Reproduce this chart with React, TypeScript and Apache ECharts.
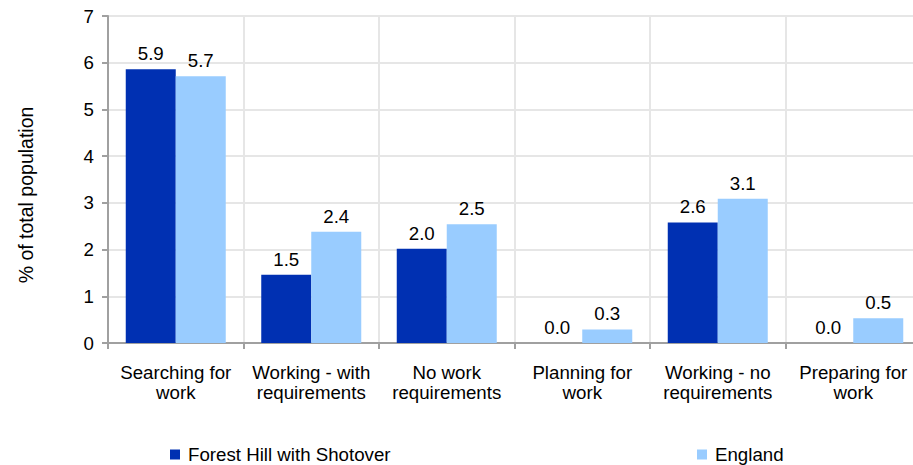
import React, { useEffect, useRef } from "react";
import * as echarts from "echarts";

const categories = [
  "Searching for\nwork",
  "Working - with\nrequirements",
  "No work\nrequirements",
  "Planning for\nwork",
  "Working - no\nrequirements",
  "Preparing for\nwork",
];
const seriesNames = ["Forest Hill with Shotover", "England"];
const forestHill = [5.86, 1.46, 2.02, 0.0, 2.58, 0.0];
const england = [5.71, 2.38, 2.54, 0.29, 3.09, 0.53];
const yTicks = { min: 0, max: 7, interval: 1 };
const yAxisTitle = "% of total population";

const DARK = "#0030b2";
const LIGHT = "#99ccff";
const FONT = "Liberation Sans, Arial, sans-serif";
const FS = 18.7;

export default function App() {
  const ref = useRef<HTMLDivElement>(null);
  useEffect(() => {
    const chart = echarts.init(ref.current!, null, { renderer: "svg" });
    const label = {
      show: true,
      position: "top",
      distance: 6,
      color: "#000",
      fontSize: FS,
      fontFamily: FONT,
      formatter: (p: any) => Number(p.value).toFixed(1),
    };
    const legendText = {
      color: "#000",
      fontSize: FS,
      fontFamily: FONT,
      lineHeight: 18,
      padding: [0, 0, 0, 3],
    };
    chart.setOption({
      animation: false,
      textStyle: { fontFamily: FONT },
      grid: {
        left: 108,
        width: 813,
        top: 16,
        height: 327,
        containLabel: false,
        outerBoundsMode: "none",
      },
      graphic: [
        {
          type: "text",
          x: 26,
          y: 195,
          rotation: Math.PI / 2,
          style: {
            text: yAxisTitle,
            fill: "#000",
            fontSize: 19.5,
            fontFamily: FONT,
            align: "center",
            verticalAlign: "middle",
          },
        },
      ],
      legend: [
        {
          data: [seriesNames[0]],
          left: 170,
          top: 445,
          padding: 0,
          itemWidth: 10,
          itemHeight: 10,
          itemGap: 8,
          icon: "rect",
          textStyle: legendText,
        },
        {
          data: [seriesNames[1]],
          left: 697,
          top: 445,
          padding: 0,
          itemWidth: 10,
          itemHeight: 10,
          icon: "rect",
          textStyle: legendText,
        },
      ],
      xAxis: {
        type: "category",
        data: categories,
        axisLine: { show: true, lineStyle: { color: "#a0a0a0", width: 2 } },
        axisTick: { show: true, length: 6, lineStyle: { color: "#a0a0a0", width: 2 } },
        splitLine: { show: true, lineStyle: { color: "#e6e6e6", width: 2 } },
        axisLabel: {
          color: "#000",
          fontSize: FS,
          fontFamily: FONT,
          lineHeight: 20,
          margin: 19,
          interval: 0,
        },
      },
      yAxis: {
        type: "value",
        min: yTicks.min,
        max: yTicks.max,
        interval: yTicks.interval,
        axisLine: { show: true, lineStyle: { color: "#a0a0a0", width: 2 } },
        axisTick: { show: true, length: 6, lineStyle: { color: "#a0a0a0", width: 2 } },
        splitLine: { show: true, lineStyle: { color: "#e6e6e6", width: 2 } },
        axisLabel: { color: "#000", fontSize: FS, fontFamily: FONT, margin: 14 },
      },
      series: [
        {
          name: seriesNames[0],
          type: "bar",
          data: forestHill,
          barWidth: 50,
          barGap: "0%",
          itemStyle: { color: DARK },
          label,
        },
        {
          name: seriesNames[1],
          type: "bar",
          data: england,
          barWidth: 50,
          barGap: "0%",
          itemStyle: { color: LIGHT },
          label,
        },
      ],
    });
    return () => chart.dispose();
  }, []);
  return (
    <div
      ref={ref}
      style={{ position: "fixed", left: 0, top: 0, width: 913, height: 465, background: "#fff" }}
    />
  );
}
